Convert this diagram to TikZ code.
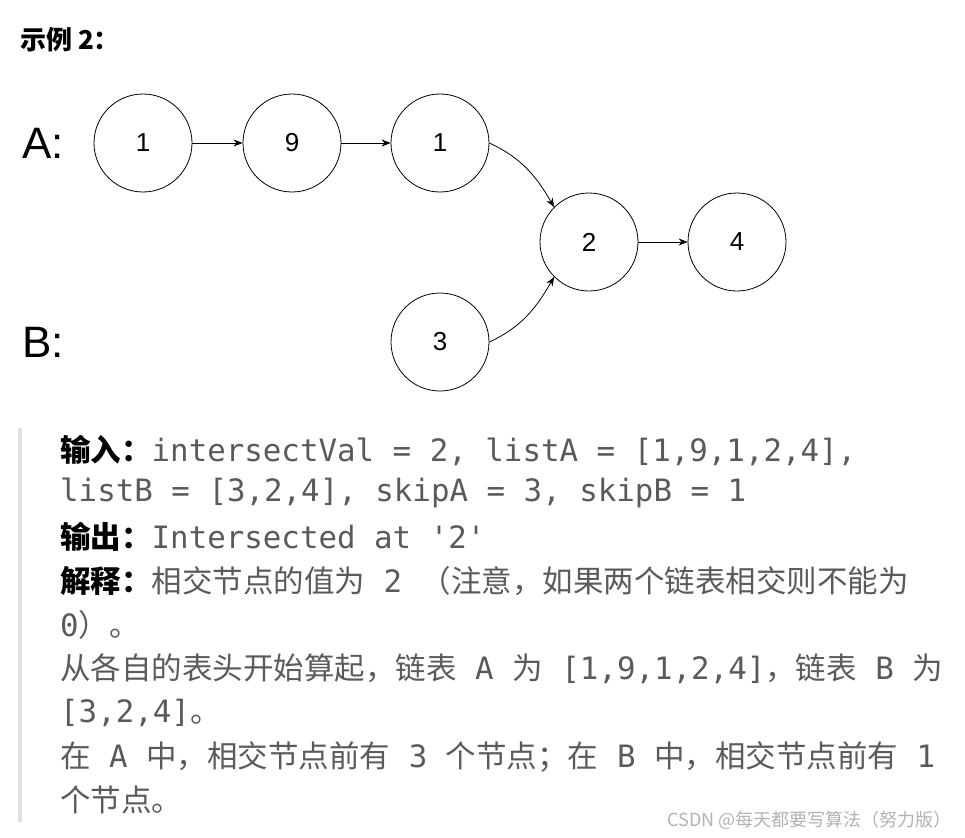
\documentclass[tikz,border=0pt]{standalone}
\usepackage{fontspec}
\setmainfont{Liberation Sans}
\newfontfamily\cjk{Noto Sans CJK SC}
\newfontfamily\mono{DejaVu Sans Mono}
\usetikzlibrary{arrows.meta}
\definecolor{txt}{HTML}{5A5A5A}
\begin{document}
\begin{tikzpicture}[x=1pt,y=-1pt,
  nd/.style={circle,draw,line width=0.8pt,minimum size=98pt,inner sep=0pt,font=\fontsize{26}{30}\selectfont},
  lk/.style={-{Stealth[length=9pt,width=7pt]},line width=0.8pt},
  big/.style={font=\fontsize{44}{48}\selectfont},
  ln/.style={anchor=west,inner sep=0pt,text=txt,font=\fontsize{30.5}{32}\selectfont}]
\useasboundingbox (0,0) rectangle (965,837);
\node[anchor=west,inner sep=0pt,font=\cjk\bfseries\fontsize{26}{30}\selectfont] (t) at (20,40) {示例 2：};
\node[big] (la) at (43,143) {A:};
\node[big] (lb) at (43,342) {B:};
\node[nd] (a1) at (143,143) {1};
\node[nd] (a2) at (292,143) {9};
\node[nd] (a3) at (440,143) {1};
\node[nd] (c1) at (589,242) {2};
\node[nd] (c2) at (737,242) {4};
\node[nd] (b1) at (440,342) {3};
\draw[lk] (a1) -- (a2);
\draw[lk] (a2) -- (a3);
\draw[lk] (c1) -- (c2);
\draw[lk] (a3.east) to[out=-25,in=120] (c1.north west);
\draw[lk] (b1.east) to[out=25,in=-120] (c1.south west);
\fill[black!12] (18,428) rectangle (22,822);
\newcommand\bl[1]{{\cjk\bfseries\color{black}#1}}
\newcommand\cj[1]{{\cjk #1}}
\newcommand\mm[1]{{\mono\fontsize{30.8}{32}\selectfont #1}}
\node[ln] (l1) at (60,450) {\bl{输入：}\mm{intersectVal = 2, listA = [1,9,1,2,4],}};
\node[ln] (l2) at (60,493) {\mm{listB = [3,2,4], skipA = 3, skipB = 1}};
\node[ln] (l3) at (60,537) {\bl{输出：}\mm{Intersected at '2'}};
\node[ln] (l4) at (60,581) {\bl{解释：}\cj{相交节点的值为}\mm{\ 2\ }\cj{（注意，如果两个链表相交则不能为}};
\node[ln] (l5) at (60,625) {\mm{0}\cj{）。}};
\node[ln] (l6) at (60,669) {\cj{从各自的表头开始算起，链表}\mm{\ A\ }\cj{为}\mm{\ [1,9,1,2,4]}\cj{，链表}\mm{\ B\ }\cj{为}};
\node[ln] (l7) at (60,713) {\mm{[3,2,4]}\cj{。}};
\node[ln] (l8) at (60,757) {\cj{在}\mm{\ A\ }\cj{中，相交节点前有}\mm{\ 3\ }\cj{个节点；在}\mm{\ B\ }\cj{中，相交节点前有}\mm{\ 1}};
\node[ln] (l9) at (60,800) {\cj{个节点。}};
\node[anchor=east,inner sep=0pt,text=black!30,font=\cjk\fontsize{18}{20}\selectfont] (wm) at (952,820) {CSDN @每天都要写算法（努力版）};
\end{tikzpicture}
\end{document}
